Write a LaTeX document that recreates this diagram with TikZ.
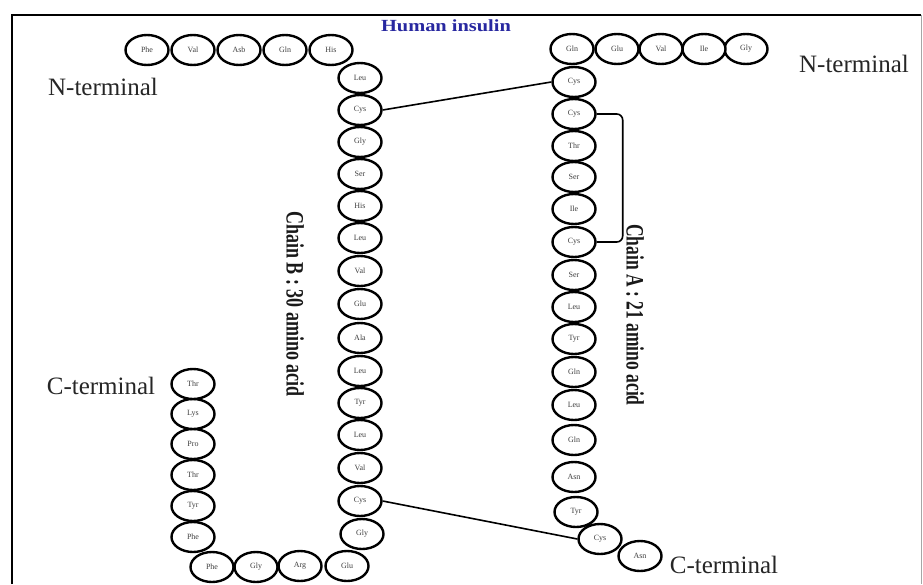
\documentclass[tikz,border=0pt]{standalone}
\usepackage{fontspec}
\setmainfont{Liberation Serif}
\usepackage{tikz}
\usetikzlibrary{shapes.geometric}
\usetikzlibrary{positioning}

\definecolor{titleblue}{RGB}{40,40,160}

\begin{document}
\begin{tikzpicture}[
        x=1pt, y=-1pt,
        residue/.style={ellipse, draw=black, line width=2.4pt, fill=white, inner sep=0pt, minimum width=43pt, minimum height=30pt, text=black!75, font=\fontsize{8}{8}\selectfont},
        terminal/.style={font=\fontsize{25}{25}\selectfont, text=black!85, inner sep=0pt},
        chainlabel/.style={rotate=-90, inner sep=0pt, text=black!90, font=\fontsize{25}{25}\selectfont\bfseries},
        bond/.style={draw, line width=1.6pt},
        frame/.style={draw, line width=2.6pt}
    ]
    \useasboundingbox (0,0) rectangle (923,584);

    % --- 1. KHUNG (FRAME) ---
    \draw[frame] (12,584) -- (12,15) -- (921,15);
    \draw[black!35, line width=0.8pt] (921,15) -- (921,584);

    \node[font=\fontsize{17}{17}\selectfont\bfseries, text=titleblue] (title) at (446,26) {\scalebox{1.2}[1]{Human insulin}};

    % --- 2. CHUỖI B (30 amino acid) ---
    \node[residue] (b1) at (147,50) {Phe};
    \node[residue] (b2) at (193,50) {Val};
    \node[residue] (b3) at (239,50) {Asb};
    \node[residue] (b4) at (285,50) {Gln};
    \node[residue] (b5) at (331,50) {His};

    \node[residue] (b6) at (360,78) {Leu};
    \node[residue] (b7) at (360,110) {Cys};
    \node[residue] (b8) at (360,142) {Gly};
    \node[residue] (b9) at (360,174) {Ser};
    \node[residue] (b10) at (360,206) {His};
    \node[residue] (b11) at (360,238) {Leu};
    \node[residue] (b12) at (360,271) {Val};
    \node[residue] (b13) at (360,304) {Glu};
    \node[residue] (b14) at (360,338) {Ala};
    \node[residue] (b15) at (360,371) {Leu};
    \node[residue] (b16) at (360,403) {Tyr};
    \node[residue] (b17) at (360,435) {Leu};
    \node[residue] (b18) at (360,468) {Val};
    \node[residue] (b19) at (360,501) {Cys};
    \node[residue] (b20) at (362,534) {Gly};

    \node[residue] (b21) at (347,566) {Glu};
    \node[residue] (b22) at (300,566) {Arg};
    \node[residue] (b23) at (256,567) {Gly};
    \node[residue] (b24) at (212,567) {Phe};

    \node[residue] (b25) at (193,537) {Phe};
    \node[residue] (b26) at (193,506) {Tyr};
    \node[residue] (b27) at (193,475) {Thr};
    \node[residue] (b28) at (193,444) {Pro};
    \node[residue] (b29) at (193,414) {Lys};
    \node[residue] (b30) at (193,384) {Thr};

    % --- 3. CHUỖI A (21 amino acid) ---
    \node[residue] (a1) at (746,49) {Gly};
    \node[residue] (a2) at (704,49) {Ile};
    \node[residue] (a3) at (661,49) {Val};
    \node[residue] (a4) at (617,49) {Glu};
    \node[residue] (a5) at (572,49) {Gln};

    \node[residue] (a6) at (574,82) {Cys};
    \node[residue] (a7) at (574,114) {Cys};
    \node[residue] (a8) at (574,146) {Thr};
    \node[residue] (a9) at (574,177) {Ser};
    \node[residue] (a10) at (574,209) {Ile};
    \node[residue] (a11) at (574,242) {Cys};
    \node[residue] (a12) at (574,275) {Ser};
    \node[residue] (a13) at (574,307) {Leu};
    \node[residue] (a14) at (574,339) {Tyr};
    \node[residue] (a15) at (574,372) {Gln};
    \node[residue] (a16) at (574,405) {Leu};
    \node[residue] (a17) at (574,440) {Gln};
    \node[residue] (a18) at (574,477) {Asn};
    \node[residue] (a19) at (576,512) {Tyr};

    \node[residue] (a20) at (600,539) {Cys};
    \node[residue] (a21) at (640,556) {Asn};

    % --- 4. CẦU DISULFIDE ---
    \draw[bond] (b7.east) -- (a6.west);
    \draw[bond] (b19.east) -- (a20.west);
    \draw[bond, rounded corners=6pt] (a7.east) -- ++(26,0) |- (a11.east);

    % --- 5. NHÃN ---
    \node[terminal] (bN) at (103,87) {N-terminal};
    \node[terminal] (bC) at (101,386) {C-terminal};
    \node[terminal] (aN) at (854,64) {N-terminal};
    \node[terminal] (aC) at (724,565) {C-terminal};

    \node[chainlabel] (chainB) at (295,304) {\scalebox{0.72}[1]{Chain B : 30 amino acid}};
    \node[chainlabel] (chainA) at (635,315) {\scalebox{0.7}[1]{Chain A : 21 amino acid}};

\end{tikzpicture}
\end{document}
